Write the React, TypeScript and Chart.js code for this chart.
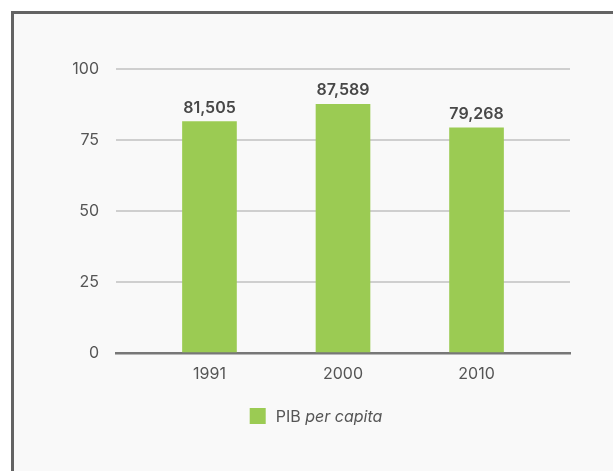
import React, { useEffect, useRef } from "react";
import { Chart, registerables } from "chart.js";

Chart.register(...registerables);

const years = ["1991", "2000", "2010"];
const values = [81.505, 87.589, 79.268];
const yTicks = [0, 25, 50, 75, 100];
const seriesLabel = "PIB per capita";

const FONT = "Inter, 'Open Sans', sans-serif";
const GREEN = "#9bcb53";
const TEXT = "#555555";

const fmt = (v: number) => v.toFixed(3).replace(".", ",");

const valueLabelPlugin = {
  id: "valueLabels",
  afterDatasetsDraw(chart: any) {
    const ctx = chart.ctx;
    const meta = chart.getDatasetMeta(0);
    ctx.save();
    ctx.font = `600 16px ${FONT}`;
    ctx.fillStyle = "#484848";
    ctx.textAlign = "center";
    ctx.textBaseline = "alphabetic";
    meta.data.forEach((bar: any, i: number) => {
      ctx.fillText(fmt(values[i]), bar.x, bar.y - 9);
    });
    ctx.restore();
  },
};

const legendPlugin = {
  id: "customLegend",
  afterDraw(chart: any) {
    const ctx = chart.ctx;
    const ds = chart.data.datasets[0];
    const label: string = ds.label;
    const idx = label.indexOf(" ");
    const first = label.slice(0, idx + 1);
    const rest = label.slice(idx + 1);
    ctx.save();
    const regFont = `16px ${FONT}`;
    const itFont = `italic 16px ${FONT}`;
    ctx.font = regFont;
    const w1 = ctx.measureText(first).width;
    ctx.font = itFont;
    const w2 = ctx.measureText(rest).width;
    const box = 16;
    const gap = 10;
    const total = box + gap + w1 + w2;
    const cx = chart.width / 2 + 2.5;
    const x0 = cx - total / 2;
    const cy = 402;
    ctx.fillStyle = ds.backgroundColor;
    ctx.fillRect(x0, cy - box / 2, box, box);
    ctx.fillStyle = TEXT;
    ctx.textBaseline = "middle";
    ctx.textAlign = "left";
    ctx.font = regFont;
    ctx.fillText(first, x0 + box + gap, cy + 1);
    ctx.font = itFont;
    ctx.fillText(rest, x0 + box + gap + w1, cy + 1);
    ctx.restore();
  },
};

export default function App() {
  const ref = useRef<HTMLCanvasElement | null>(null);

  useEffect(() => {
    document.body.style.overflow = "hidden";
    const canvas = ref.current;
    if (!canvas) return;
    const chart = new Chart(canvas, {
      type: "bar",
      data: {
        datasets: [
          {
            label: seriesLabel,
            data: years.map((_, i) => ({ x: i, y: values[i] })),
            backgroundColor: GREEN,
            borderWidth: 0,
            barThickness: 54,
          },
        ],
      },
      options: {
        responsive: false,
        animation: false,
        layout: { padding: { left: 0, right: 43, top: 55, bottom: 78 } },
        plugins: {
          legend: { display: false },
          tooltip: { enabled: false },
        },
        scales: {
          x: {
            type: "linear",
            offset: false,
            min: -0.7,
            max: 2.7,
            afterBuildTicks: (scale: any) => {
              scale.ticks = years.map((_, i) => ({ value: i }));
            },
            afterFit: (scale: any) => {
              scale.height = 40;
            },
            grid: { display: false, drawTicks: false },
            border: { display: true, color: "#777777", width: 2.5 },
            ticks: {
              padding: 12,
              color: TEXT,
              font: { family: FONT, size: 16 },
              callback: (v: any) => years[Number(v)] ?? "",
              autoSkip: false,
              maxRotation: 0,
            },
          },
          y: {
            min: 0,
            max: 100,
            afterBuildTicks: (scale: any) => {
              scale.ticks = yTicks.map((v) => ({ value: v }));
            },
            afterFit: (scale: any) => {
              scale.width = 102;
            },
            border: { display: false },
            grid: {
              drawTicks: false,
              lineWidth: 2,
              color: (c: any) => (c.tick && c.tick.value === 0 ? "rgba(0,0,0,0)" : "#cfcfcf"),
            },
            ticks: {
              padding: 17,
              color: TEXT,
              font: { family: FONT, size: 16 },
            },
          },
        },
      },
      plugins: [valueLabelPlugin, legendPlugin],
    } as any);
    return () => chart.destroy();
  }, []);

  return (
    <div
      style={{
        position: "fixed",
        left: 11,
        top: 11,
        width: 700,
        height: 600,
        borderTop: "3px solid #636363",
        borderLeft: "3px solid #636363",
        background: "#f9f9f9",
      }}
    >
      <canvas
        ref={ref}
        width={599}
        height={457}
        style={{ position: "absolute", left: 0, top: 0, display: "block" }}
      />
    </div>
  );
}
